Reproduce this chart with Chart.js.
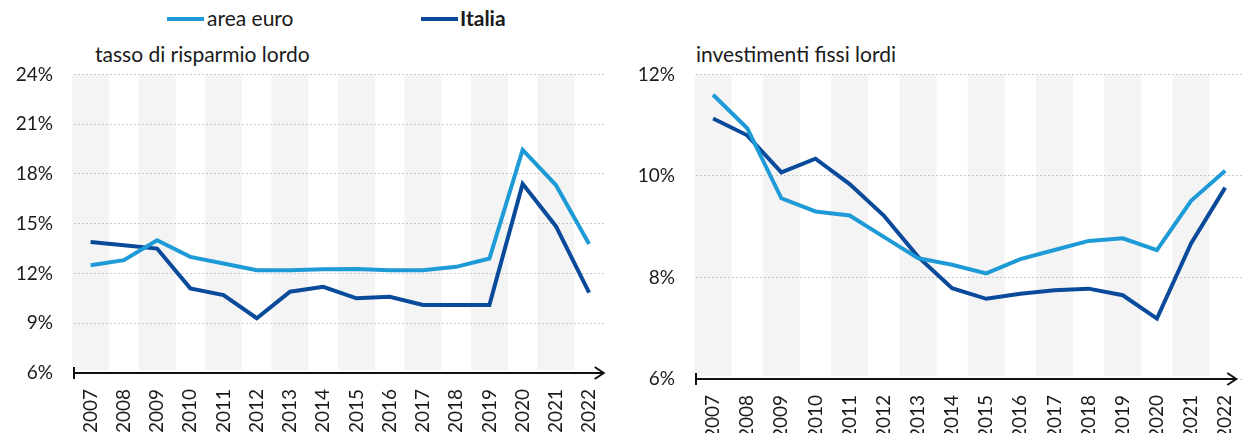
<!DOCTYPE html>
<html>
<head>
<meta charset="utf-8">
<script src="https://cdn.jsdelivr.net/npm/chart.js@4.4.0/dist/chart.umd.min.js"></script>
<style>
  body { margin: 0; width: 1249px; height: 433px; overflow: hidden; background: #fff; position: relative; font-family: Lato, sans-serif; color: #1a1a1a; }
  .txt { position: absolute; font-size: 21px; line-height: 24px; white-space: nowrap; }
  .key { position: absolute; height: 4px; width: 37px; }
  canvas { position: absolute; top: 42px; }
</style>
</head>
<body>
<div class="key" id="keyEuro" style="left:167px;top:17px"></div>
<div class="txt" id="labEuro" style="left:207px;top:6px"></div>
<div class="key" id="keyItaly" style="left:421px;top:17px"></div>
<div class="txt" id="labItaly" style="left:460px;top:6px;font-weight:bold"></div>
<div class="txt" style="left:95px;top:42px">tasso di risparmio lordo</div>
<div class="txt" style="left:696px;top:42px">investimenti fissi lordi</div>
<canvas id="left" width="620" height="391" style="left:0"></canvas>
<canvas id="right" width="634" height="391" style="left:622px"></canvas>
<script>
const years = ['2007','2008','2009','2010','2011','2012','2013','2014','2015','2016','2017','2018','2019','2020','2021','2022'];

// tasso di risparmio lordo (%)
const savingsEuro  = [12.5, 12.8, 14.0, 13.0, 12.6, 12.2, 12.2, 12.25, 12.27, 12.2, 12.2, 12.4, 12.9, 19.45, 17.33, 13.77];
const savingsItaly = [13.9, 13.7, 13.5, 11.1, 10.7, 9.3, 10.9, 11.2, 10.5, 10.6, 10.1, 10.1, 10.1, 17.4, 14.85, 10.85];

// investimenti fissi lordi (%)
const investEuro  = [11.6, 10.94, 9.56, 9.3, 9.22, 8.8, 8.38, 8.25, 8.08, 8.36, 8.54, 8.72, 8.77, 8.54, 9.51, 10.1];
const investItaly = [11.13, 10.8, 10.07, 10.34, 9.84, 9.22, 8.41, 7.79, 7.58, 7.68, 7.75, 7.78, 7.65, 7.19, 8.67, 9.77];

const seriesNames = ['area euro', 'Italia'];
const seriesColors = ['#1e9bd7', '#0a4a9a'];

document.getElementById('keyEuro').style.background = seriesColors[0];
document.getElementById('keyItaly').style.background = seriesColors[1];
document.getElementById('labEuro').textContent = seriesNames[0];
document.getElementById('labItaly').textContent = seriesNames[1];

const font = { family: 'Lato', size: 19 };

// grey bands on alternate years + black axis with arrow
const decor = {
  id: 'decor',
  beforeDraw(chart) {
    const { ctx, chartArea: a, scales: { x } } = chart;
    ctx.save();
    ctx.fillStyle = '#f4f4f4';
    for (let i = 0; i < years.length; i += 2) {
      const px = x.getPixelForValue(i);
      ctx.fillRect(px - 18.5, a.top, 37, a.bottom - a.top - 3);
    }
    ctx.restore();
  },
  afterDraw(chart, args, opts) {
    const { ctx, chartArea: a } = chart;
    const end = a.right - (opts.inset || 2);
    const y = a.bottom;
    ctx.save();
    ctx.strokeStyle = '#111';
    ctx.lineWidth = 2;
    ctx.beginPath();
    ctx.moveTo(a.left, y);
    ctx.lineTo(end, y);
    ctx.moveTo(a.left, y - 6);
    ctx.lineTo(a.left, y + 6);
    ctx.moveTo(end - 9, y - 6);
    ctx.lineTo(end, y);
    ctx.lineTo(end - 9, y + 6);
    ctx.stroke();
    ctx.restore();
  }
};

function makeChart(id, euro, italy, yMin, yMax, step, xHeight, inset) {
  new Chart(document.getElementById(id), {
    type: 'line',
    data: {
      labels: years,
      datasets: [
        { label: seriesNames[0], data: euro, borderColor: seriesColors[0], backgroundColor: seriesColors[0], borderWidth: 4, pointRadius: 0, tension: 0 },
        { label: seriesNames[1], data: italy, borderColor: seriesColors[1], backgroundColor: seriesColors[1], borderWidth: 4, pointRadius: 0, tension: 0 }
      ]
    },
    options: {
      responsive: false,
      animation: false,
      layout: { padding: { top: 0, right: id == 'left' ? 3 : 0, left: 0, bottom: 0 } },
      plugins: {
        legend: { display: false },
        tooltip: { enabled: false },
        decor: { inset: inset }
      },
      scales: {
        x: {
          offset: true,
          grid: { display: false },
          border: { display: false },
          ticks: { minRotation: 90, maxRotation: 90, autoSkip: false, padding: 8, font: font, color: '#1a1a1a' },
          afterFit(s) { s.height = xHeight; }
        },
        y: {
          min: yMin,
          max: yMax,
          grid: { color: '#c8c8c8', lineWidth: 1, drawTicks: false },
          border: { display: false, dash: [2, 2] },
          ticks: { stepSize: step, padding: 21, font: font, color: '#1a1a1a', callback: v => v + '%' },
          afterFit(s) { s.width = 74; }
        }
      }
    },
    plugins: [decor]
  });
}

makeChart('left', savingsEuro, savingsItaly, 6, 24, 3, 60, 2);
makeChart('right', investEuro, investItaly, 6, 12, 2, 54, 6);
</script>
</body>
</html>
